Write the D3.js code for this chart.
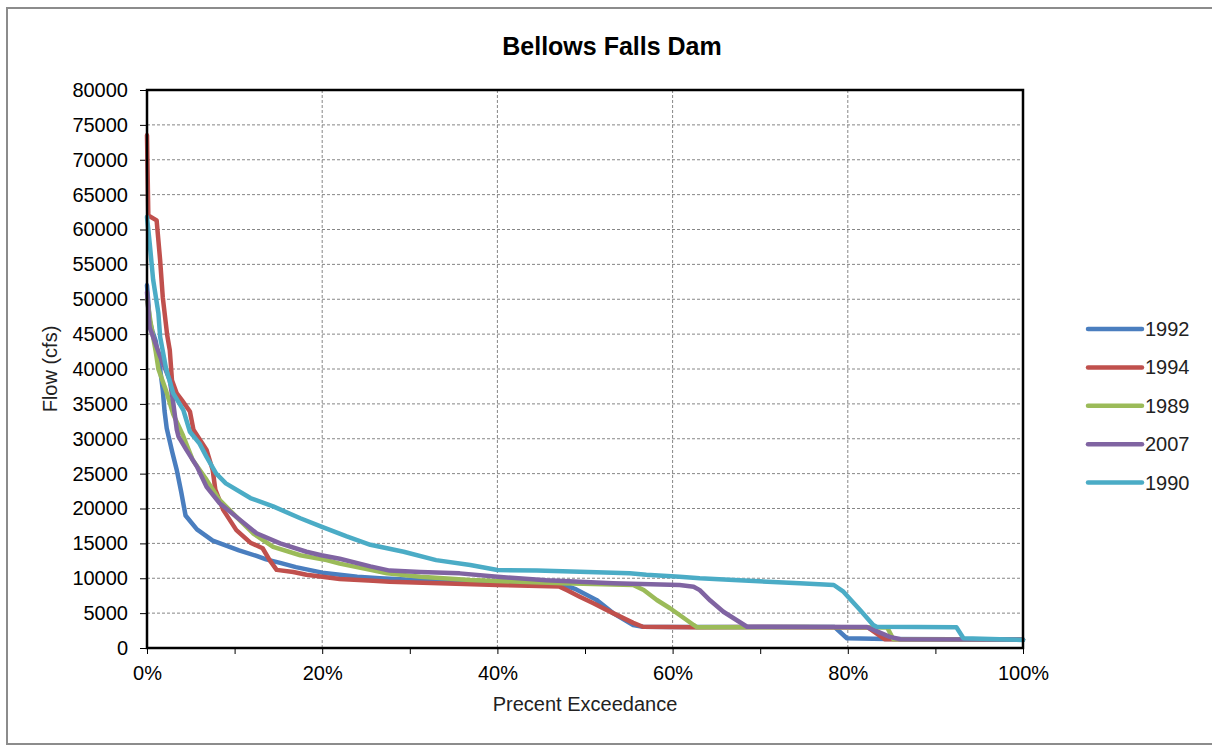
<!DOCTYPE html>
<html>
<head>
<meta charset="utf-8">
<script src="https://cdn.jsdelivr.net/npm/d3@7"></script>
<style>
  html, body { margin: 0; padding: 0; background: #fff; }
  svg { display: block; font-family: "Liberation Sans", Arial, sans-serif; }
</style>
</head>
<body>
<svg id="chart" width="1212" height="746"></svg>
<script>
// ---- Data (x = percent exceedance, y = flow in cfs) ----
const seriesNames = ["1992", "1994", "1989", "2007", "1990"];
const seriesColors = ["#4a7ebf", "#c0504d", "#9bbb59", "#8064a2", "#4bacc6"];

const s1992 = [[0,52000],[0.3,47000],[0.6,45500],[1.0,44000],[1.5,40000],[1.8,37000],[2.0,34000],[2.25,31500],[2.9,28000],[3.4,25500],[3.9,22400],[4.4,19000],[5.7,17000],[7.5,15400],[10.5,14000],[12.5,13200],[13.6,12700],[15.2,12200],[17.0,11600],[18.5,11200],[20,10800],[22,10500],[24,10200],[26.6,10000],[30,9800],[35,9600],[40,9400],[45,9300],[47.5,9100],[49,8400],[51.3,6900],[53.2,5000],[55.5,3300],[56.6,3050],[60,3000],[70,3000],[78.5,3000],[79.9,1400],[84.4,1300],[100,1200]];

const s1994 = [[0,73500],[0.15,62000],[1.1,61300],[1.5,55600],[1.8,50300],[2.3,44900],[2.6,42700],[2.85,38400],[3.4,36500],[4.0,35500],[4.9,33900],[5.3,31300],[6.8,28400],[7.5,25500],[7.8,22700],[8.7,19800],[10.2,16900],[11.8,15100],[13.2,14300],[14.0,12600],[14.8,11200],[16.7,10900],[18.2,10500],[20,10200],[22,9900],[25.8,9650],[27.7,9500],[40,9050],[47.1,8800],[47.9,8300],[49.4,7350],[50.9,6450],[53.2,5000],[55.5,3600],[56.6,3050],[62.3,2970],[70,3000],[82.3,2950],[84.2,1250],[100,1200]];

const s1989 = [[0,50000],[0.5,46000],[1.0,42500],[1.3,40000],[2.2,36800],[3.0,33500],[4.1,30500],[5.2,27000],[6.8,24100],[8.3,21200],[10.2,18800],[12.1,16450],[14.4,14500],[17.5,13300],[20.5,12600],[22.0,12100],[25.5,11200],[27.4,10700],[31.2,10200],[36.9,9750],[42.6,9500],[47.5,9270],[55.5,9030],[56.7,8320],[58.2,6880],[59.7,5700],[60.8,4730],[62.4,3300],[62.8,2970],[75,3000],[84.5,2950],[85.2,1250],[100,1200]];

const s2007 = [[0,51000],[0.3,46000],[1.5,41800],[2.6,38400],[3.0,35100],[3.4,31300],[3.6,30300],[4.5,28400],[5.7,26000],[6.8,23100],[8.3,20750],[10.2,18800],[12.5,16450],[15.2,15000],[18.2,13800],[19.9,13300],[22.0,12800],[25.5,11700],[27.7,11100],[31.2,10900],[35.7,10700],[40,10200],[45.6,9700],[53.2,9300],[60.8,9030],[62.4,8790],[63.1,8300],[64.3,6800],[65.8,5200],[68.5,3050],[82.2,3000],[84.8,1600],[86,1250],[100,1200]];

const s1990 = [[0,61800],[0.35,57500],[0.7,52800],[1.3,48000],[1.5,44600],[2.2,39900],[3.0,36500],[4.15,34100],[4.9,31000],[6.0,29300],[6.8,27400],[7.9,25000],[9.0,23600],[11.8,21500],[14.4,20300],[17.5,18600],[19.9,17400],[22.8,16000],[25.5,14800],[29.3,13800],[33,12600],[36.9,11900],[40,11180],[44.5,11100],[49.4,10940],[55.1,10710],[57,10500],[60.8,10220],[63.1,10000],[67,9750],[74.5,9270],[78.4,9030],[79.5,8070],[81.4,5450],[82.9,3300],[83.3,3060],[92.4,2970],[93.2,1390],[100,1150]];

const seriesData = [s1992, s1994, s1989, s2007, s1990];

const yTicks = d3.range(0, 80001, 5000);
const xTicks = d3.range(0, 101, 10);
const xLabelTicks = [0, 20, 40, 60, 80, 100];

// ---- Layout ----
const svg = d3.select("#chart");
const plot = { left: 147, top: 90, width: 876, height: 558 };

svg.append("rect")
  .attr("x", 7).attr("y", 8).attr("width", 1230).attr("height", 736)
  .attr("fill", "#fff").attr("stroke", "#8c8c8c").attr("stroke-width", 2);

const x = d3.scaleLinear().domain([0, 100]).range([0, plot.width]);
const y = d3.scaleLinear().domain([0, 80000]).range([plot.height, 0]);

const g = svg.append("g").attr("transform", `translate(${plot.left},${plot.top})`);

// gridlines
g.append("g").selectAll("line.h").data(yTicks.filter(d => d > 0 && d < 80000)).join("line")
  .attr("x1", 0).attr("x2", plot.width)
  .attr("y1", d => y(d)).attr("y2", d => y(d))
  .attr("stroke", "#868686").attr("stroke-width", 1).attr("stroke-dasharray", "3,2");
g.append("g").selectAll("line.v").data(xLabelTicks.filter(d => d > 0 && d < 100)).join("line")
  .attr("y1", 0).attr("y2", plot.height)
  .attr("x1", d => x(d)).attr("x2", d => x(d))
  .attr("stroke", "#868686").attr("stroke-width", 1).attr("stroke-dasharray", "3,2");

// axes
const yAxis = d3.axisLeft(y).tickValues(yTicks).tickSize(7).tickSizeOuter(0).tickPadding(12)
  .tickFormat(d3.format("d"));
const yg = g.append("g").call(yAxis);
yg.select(".domain").remove();
yg.selectAll("line").attr("stroke", "#000");
yg.selectAll("text").attr("font-size", 20).attr("fill", "#000")
  .attr("font-family", "'Liberation Sans', Arial, sans-serif");

const xAxis = d3.axisBottom(x).tickValues(xTicks).tickSize(6).tickSizeOuter(0).tickPadding(12)
  .tickFormat(d => xLabelTicks.includes(d) ? d + "%" : "");
const xg = g.append("g").attr("transform", `translate(0,${plot.height})`).call(xAxis);
xg.select(".domain").remove();
xg.selectAll("line").attr("stroke", "#000");
xg.selectAll("text").attr("font-size", 20).attr("fill", "#000")
  .attr("font-family", "'Liberation Sans', Arial, sans-serif");

// series lines
const line = d3.line().x(d => x(d[0])).y(d => y(d[1]));
g.append("g").selectAll("path").data(seriesData).join("path")
  .attr("d", line)
  .attr("fill", "none")
  .attr("stroke", (d, i) => seriesColors[i])
  .attr("stroke-width", 4.5)
  .attr("stroke-linejoin", "round")
  .attr("stroke-linecap", "round");

// plot border
g.append("rect").attr("x", 0).attr("y", 0).attr("width", plot.width).attr("height", plot.height)
  .attr("fill", "none").attr("stroke", "#000").attr("stroke-width", 2.5);

// title
svg.append("text").attr("x", 612).attr("y", 55).attr("text-anchor", "middle")
  .attr("font-size", 25).attr("font-weight", "bold").attr("fill", "#000")
  .text("Bellows Falls Dam");

// axis titles
svg.append("text").attr("x", 585).attr("y", 711).attr("text-anchor", "middle")
  .attr("font-size", 20).attr("fill", "#222").text("Precent Exceedance");
svg.append("text").attr("transform", `translate(57,${plot.top + plot.height / 2}) rotate(-90)`)
  .attr("text-anchor", "middle").attr("font-size", 20).attr("fill", "#222").text("Flow (cfs)");

// legend
const legend = svg.append("g").attr("transform", "translate(1088,329)");
const li = legend.selectAll("g").data(seriesNames).join("g")
  .attr("transform", (d, i) => `translate(0,${i * 38.4})`);
li.append("line").attr("x1", 0).attr("x2", 54).attr("y1", 0).attr("y2", 0)
  .attr("stroke", (d, i) => seriesColors[i]).attr("stroke-width", 4.5).attr("stroke-linecap", "round");
li.append("text").attr("x", 57).attr("y", 7).attr("font-size", 20).attr("fill", "#222").text(d => d);
</script>
</body>
</html>
